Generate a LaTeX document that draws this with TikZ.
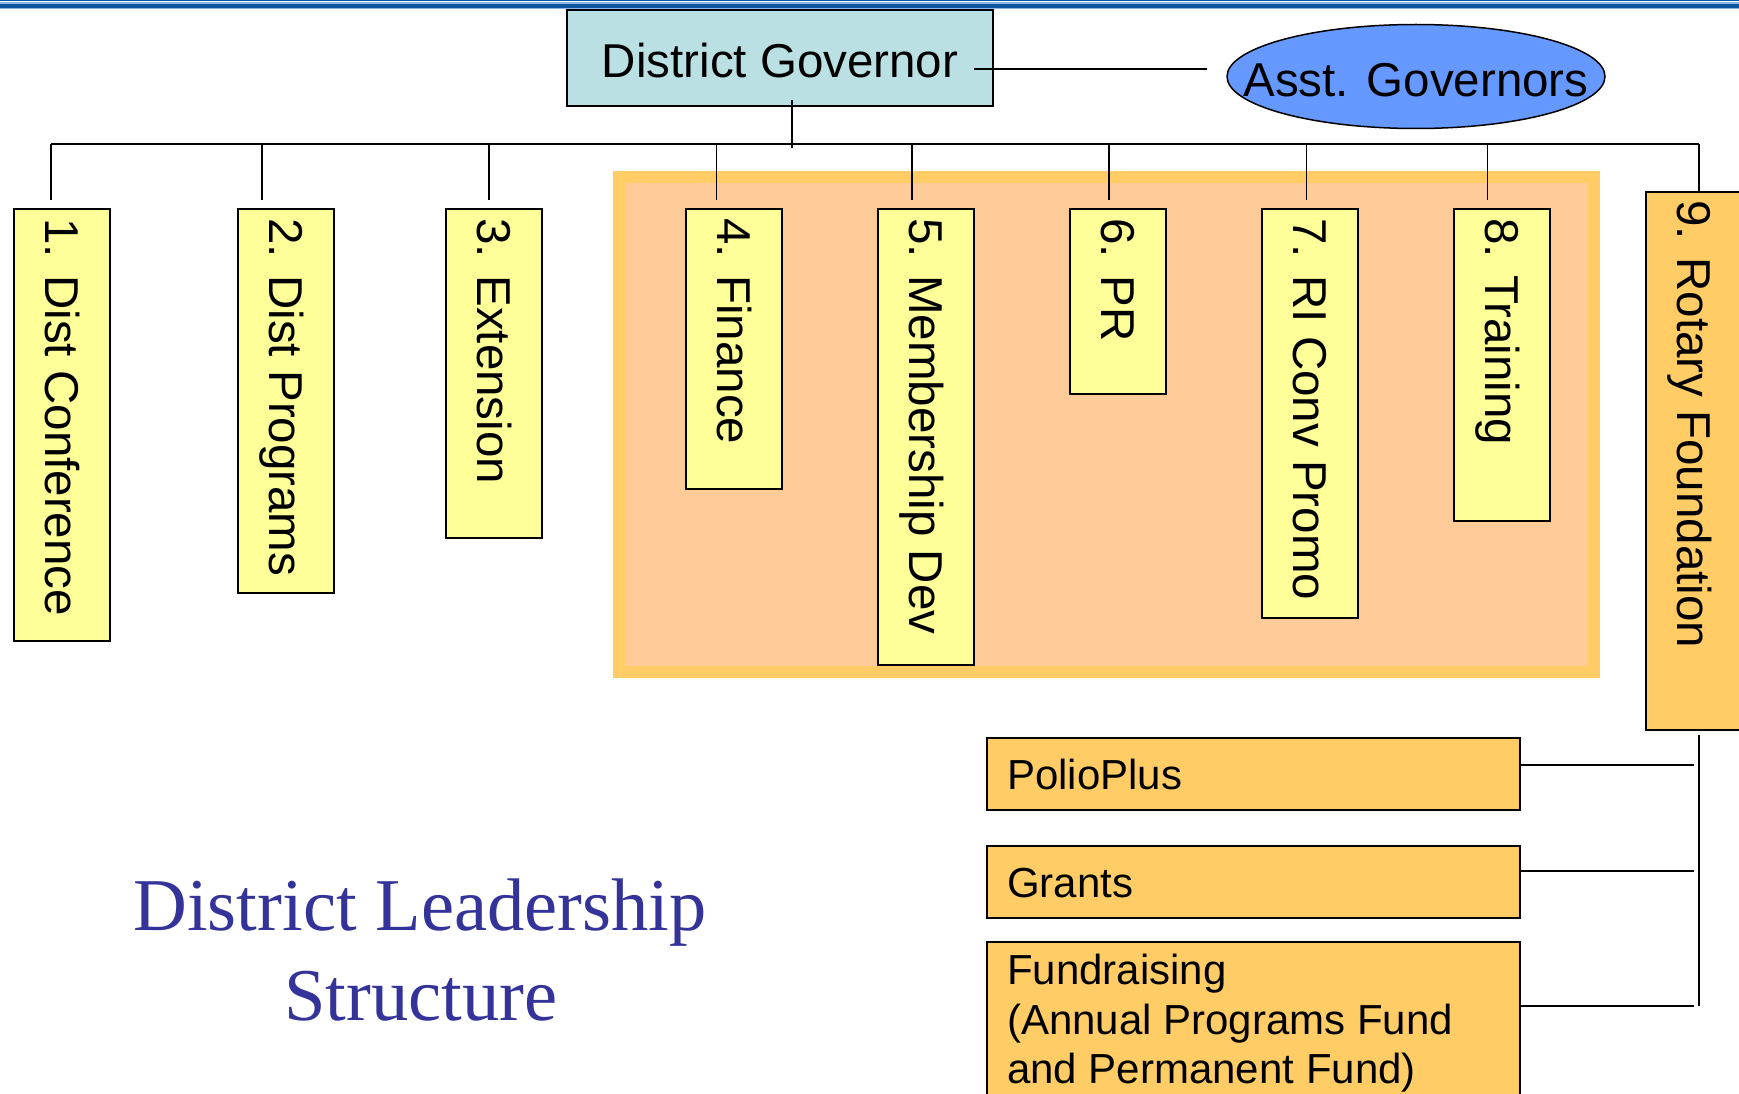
\documentclass[tikz,border=0pt]{standalone}
\usepackage{fontspec}
\setmainfont{Liberation Serif}
\setsansfont{Liberation Sans}
\usetikzlibrary{shapes.geometric}
\definecolor{boxyellow}{HTML}{FFFF99}
\definecolor{boxorange}{HTML}{FFCC66}
\definecolor{panelinner}{HTML}{FFCC99}
\definecolor{dgblue}{HTML}{BBE0E3}
\definecolor{agblue}{HTML}{6699FF}
\definecolor{titleblue}{HTML}{333399}
\definecolor{bardark}{HTML}{0B55A3}
\definecolor{barlight}{HTML}{8DB3E0}
\newcommand\chartfont{\sffamily\fontsize{47.5}{57}\selectfont}
\newcommand\smallchartfont{\sffamily\fontsize{42}{50}\selectfont}
\begin{document}
\begin{tikzpicture}[x=1pt,y=-1pt,
  ybox/.style={draw=black,line width=2pt,fill=boxyellow,inner sep=0pt,anchor=north west,minimum width=96pt},
  obox/.style={draw=black,line width=2pt,fill=boxorange,inner sep=0pt,anchor=north west},
  vlabel/.style={rotate=-90,anchor=base west,inner sep=0pt,font=\chartfont},
  hlabel/.style={anchor=base west,inner sep=0pt,font=\smallchartfont,align=left},
  conn/.style={line width=1.6pt,black},
  busline/.style={line width=2.4pt,black},
  titletext/.style={anchor=base,inner sep=0pt,font=\rmfamily\fontsize{74.5}{90}\selectfont,text=titleblue}]
\useasboundingbox (0,0) rectangle (1739,1094);
\clip (0,0) rectangle (1739,1094);
% top bars
\fill[bardark] (0,0) rectangle (1739,1.3);
\fill[barlight] (0,2.3) rectangle (1739,4);
\fill[bardark] (0,4) rectangle (1739,7.6);
\fill[barlight] (0,7.6) rectangle (1739,9);
% orange panel
\fill[boxorange] (612.7,171) rectangle (1600,678);
\fill[panelinner] (625,183) rectangle (1588,666);
% district governor
\node[draw=black,line width=2pt,fill=dgblue,anchor=north west,inner sep=0pt,
      minimum width=426pt,minimum height=96pt,font=\chartfont,
      text height=39pt,text depth=0pt] (dg) at (566,9) {District Governor};
% assistant governors
\node[ellipse,draw=black,line width=1.5pt,fill=agblue,inner sep=0pt,
      minimum width=378pt,minimum height=104pt] (ag) at (1416,76.5) {};
\node[anchor=base,inner sep=0pt,font=\chartfont] (agt) at (1416,97) {Asst. Governors};
\coordinate (dgR) at (974,69.3);
\coordinate (agL) at (1207,69.3);
\draw[conn] (dgR) -- (agL);
% bus
\coordinate (busL) at (51,144);
\coordinate (busR) at (1699,144);
\coordinate (dgS) at (792,100);
\coordinate (dgE) at (792,148);
\draw[busline] (busL) -- (busR);
\draw[conn] (dgS) -- (dgE);
% committee boxes
\foreach \i/\l/\b/\d/\t in {
  1/13/640/51/{1. Dist Conference},
  2/237/592/262/{2. Dist Programs},
  3/445/537/489/{3. Extension},
  4/685/488/716.5/{4. Finance},
  5/877/664/912/{5. Membership Dev},
  6/1069/393/1109/{6. PR},
  7/1261/617/1306.5/{7. RI Conv Promo},
  8/1453/520/1487.3/{8. Training}}{
  \node[ybox,minimum height={(\b-208)*1pt}] (b\i) at (\l,208) {};
  \node[vlabel] (t\i) at ([xshift=-17pt,yshift=-10pt]b\i.north) {\t};
  \coordinate (u\i) at (\d,144);
  \coordinate (v\i) at (\d,200);
  \draw[conn] (u\i) -- (v\i);
}
% rotary foundation
\node[obox,minimum width=96pt,minimum height=538pt] (b9) at (1645,191) {};
\node[vlabel] (t9) at ([xshift=-17pt,yshift=-9pt]b9.north) {9. Rotary Foundation};
\coordinate (u9) at (1699,144);
\coordinate (v9) at (1699,193);
\draw[conn] (u9) -- (v9);
% sub boxes
\node[obox,minimum width=533pt,minimum height=72pt] (pp) at (986,737) {};
\node[hlabel] (ppt) at (1007,789) {PolioPlus};
\node[obox,minimum width=533pt,minimum height=72pt] (gr) at (986,845) {};
\node[hlabel] (grt) at (1007,897) {Grants};
\node[obox,minimum width=533pt,minimum height=200pt] (fr) at (986,941) {};
\node[hlabel] (frt1) at (1007,984) {Fundraising};
\node[hlabel] (frt2) at (1007,1034) {(Annual Programs Fund};
\node[hlabel] (frt3) at (1007,1083) {and Permanent Fund)};
\coordinate (spT) at (1699,735);
\coordinate (spB) at (1699,1006);
\draw[conn] (spT) -- (spB);
\coordinate (ppR) at (1694,765);
\coordinate (grR) at (1694,871);
\coordinate (frR) at (1694,1006);
\draw[conn] (pp.east |- ppR) -- (ppR);
\draw[conn] (gr.east |- grR) -- (grR);
\draw[conn] (fr.east |- frR) -- (frR);
% title
\node[titletext] (title1) at (420,930) {District Leadership};
\node[titletext] (title2) at (421,1020) {Structure};
\end{tikzpicture}
\end{document}
